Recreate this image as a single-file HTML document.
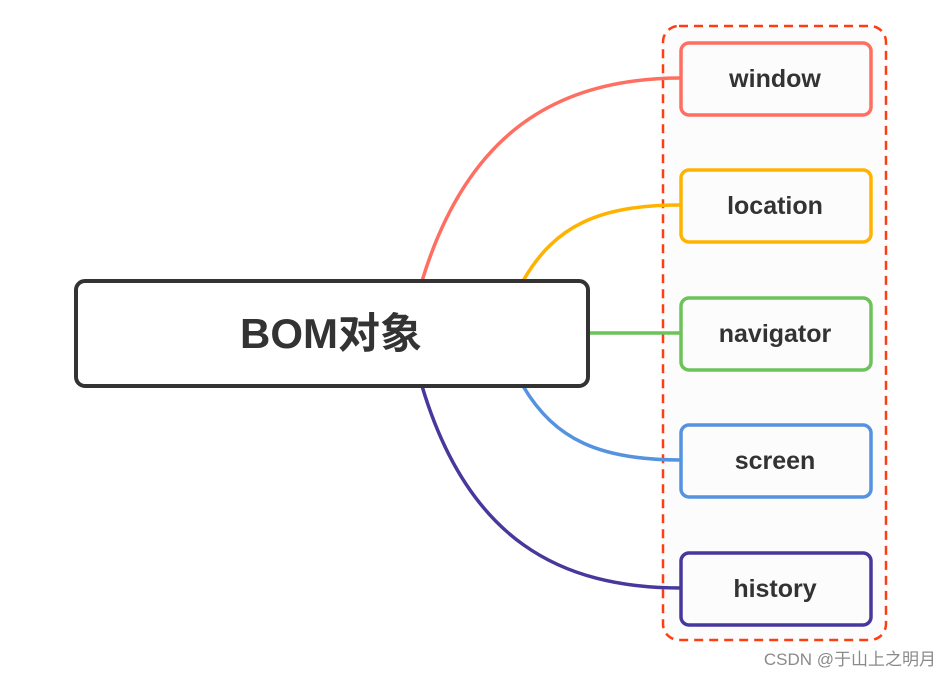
<!DOCTYPE html>
<html><head><meta charset="utf-8"><style>
html,body{margin:0;padding:0;background:#fff;}
body{width:949px;height:676px;position:relative;overflow:hidden;font-family:"Liberation Sans","Noto Sans CJK SC",sans-serif;}
</style></head><body>
<svg width="949" height="676" viewBox="0 0 949 676" xmlns="http://www.w3.org/2000/svg" style="position:absolute;left:0;top:0">
<rect x="663" y="26" width="223" height="614" rx="16" fill="#fcfcfc" stroke="#ff3d12" stroke-width="2.5" stroke-dasharray="9,6"/>
<g fill="none" stroke-width="3.5">
<path d="M422,281 C468,130 560,78 681,78" stroke="#ff6f61"/>
<path d="M523,281 C555,225 600,205 681,205" stroke="#ffb300"/>
<path d="M588,333 L681,333" stroke="#6cc35a"/>
<path d="M523,386 C555,440 600,460 681,460" stroke="#5592e0"/>
<path d="M422,386 C468,540 560,588 681,588" stroke="#46389c"/>
</g>
<rect x="76" y="281" width="512" height="105" rx="9" fill="#fff" stroke="#333" stroke-width="4"/>
<text x="331" y="348" text-anchor="middle" font-size="42" font-weight="bold" fill="#333" font-family="Liberation Sans,Noto Sans CJK SC,sans-serif">BOM对象</text>
<g fill="#fcfcfc" stroke-width="3.5">
<rect x="681" y="43" width="190" height="72" rx="8" stroke="#ff6f61"/>
<rect x="681" y="170" width="190" height="72" rx="8" stroke="#ffb300"/>
<rect x="681" y="298" width="190" height="72" rx="8" stroke="#6cc35a"/>
<rect x="681" y="425" width="190" height="72" rx="8" stroke="#5592e0"/>
<rect x="681" y="553" width="190" height="72" rx="8" stroke="#46389c"/>
</g>
<g font-size="25" font-weight="bold" fill="#333" text-anchor="middle" font-family="Liberation Sans,sans-serif">
<text x="775" y="87">window</text>
<text x="775" y="214">location</text>
<text x="775" y="342">navigator</text>
<text x="775" y="469">screen</text>
<text x="775" y="597">history</text>
</g>
<text x="936" y="665" text-anchor="end" font-size="17" fill="#8a8a8a" font-family="Liberation Sans,Noto Sans CJK SC,sans-serif">CSDN @于山上之明月</text>
</svg>
</body></html>
